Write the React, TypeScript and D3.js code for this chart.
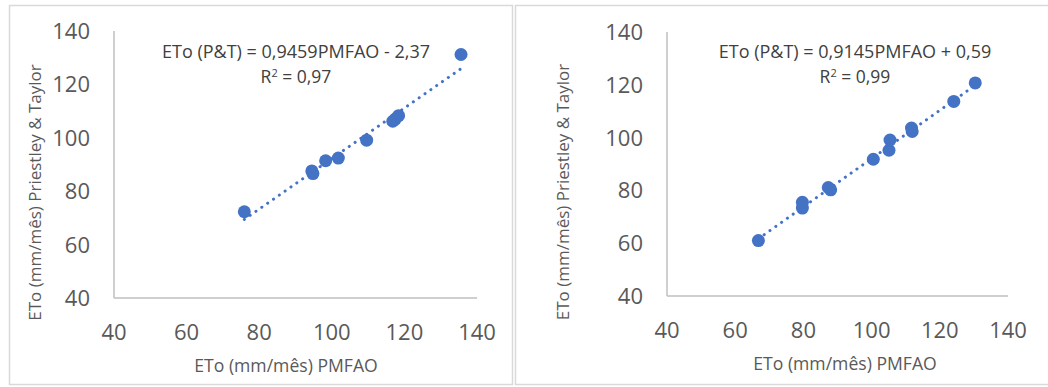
import * as d3 from "d3";
import { useEffect, useRef } from "react";

// ETo PMFAO (x) vs ETo Priestley & Taylor (y), two stations
const leftPmfao = [75.9, 94.5, 94.8, 98.3, 101.8, 109.6, 116.8, 117.5, 118.4, 135.6];
const leftPt = [72.3, 87.6, 86.6, 91.4, 92.4, 99.1, 106.2, 107.0, 108.3, 131.2];
const rightPmfao = [66.8, 79.7, 79.7, 87.3, 88.0, 100.5, 105.1, 105.4, 111.7, 111.9, 124.1, 130.4];
const rightPt = [61.0, 75.5, 73.3, 81.1, 80.2, 91.8, 95.2, 99.1, 103.6, 102.3, 113.7, 120.7];

const axisTicks = [40, 60, 80, 100, 120, 140];
const fitSlope = [0.9459, 0.9145];
const fitIntercept = [-2.37, 0.59];
const eqLabels = ["ETo (P&T) = 0,9459PMFAO - 2,37", "ETo (P&T) = 0,9145PMFAO + 0,59"];
const r2Labels = ["0,97", "0,99"];

const FONT = "'Open Sans', sans-serif";
const BLUE = "#4472C4";

const panels = [
  { xs: leftPmfao, ys: leftPt, x0: 114, x1: 477, y0: 298, y1: 31, eqX: 296, titleX: 286, yTitleX: 35 },
  { xs: rightPmfao, ys: rightPt, x0: 667, x1: 1008, y0: 296, y1: 32, eqX: 855, titleX: 845, yTitleX: 563 },
];

const App = () => {
  const ref = useRef();

  useEffect(() => {
    const svg = d3.select(ref.current);
    svg.selectAll("*").remove();

    // panel borders
    svg.append("rect").attr("x", 9.5).attr("y", 5.5).attr("width", 503).attr("height", 379)
      .attr("fill", "none").attr("stroke", "#d9d9d9").attr("stroke-width", 1.5);
    svg.append("rect").attr("x", 515.5).attr("y", 5.5).attr("width", 560).attr("height", 379)
      .attr("fill", "none").attr("stroke", "#d9d9d9").attr("stroke-width", 1.5);

    panels.forEach((p, i) => {
      const x = d3.scaleLinear().domain([40, 140]).range([p.x0, p.x1]);
      const y = d3.scaleLinear().domain([40, 140]).range([p.y0, p.y1]);
      const g = svg.append("g");

      // axis lines
      g.append("line").attr("x1", p.x0).attr("x2", p.x0).attr("y1", p.y1).attr("y2", p.y0)
        .attr("stroke", "#bfbfbf").attr("stroke-width", 1.5);
      g.append("line").attr("x1", p.x0).attr("x2", p.x1).attr("y1", p.y0).attr("y2", p.y0)
        .attr("stroke", "#bfbfbf").attr("stroke-width", 1.5);

      g.selectAll(".yt").data(axisTicks).enter().append("text")
        .attr("x", p.x0 - 24).attr("y", (d) => y(d)).attr("dy", "0.36em")
        .attr("text-anchor", "end").attr("font-family", FONT).attr("font-size", 22)
        .attr("fill", "#595959").text((d) => d);
      g.selectAll(".xt").data(axisTicks).enter().append("text")
        .attr("x", (d) => x(d)).attr("y", p.y0 + 42)
        .attr("text-anchor", "middle").attr("font-family", FONT).attr("font-size", 22)
        .attr("fill", "#595959").text((d) => d);

      // axis titles
      g.append("text").attr("x", p.titleX).attr("y", p.y0 + 74).attr("text-anchor", "middle")
        .attr("font-family", FONT).attr("font-size", 17.6).attr("fill", "#595959")
        .text("ETo (mm/mês) PMFAO");
      g.append("text")
        .attr("transform", `translate(${p.yTitleX + 6},${(p.y0 + p.y1) / 2 + 28}) rotate(-90)`)
        .attr("text-anchor", "middle").attr("font-family", FONT).attr("font-size", 17)
        .attr("fill", "#595959").text("ETo (mm/mês) Priestley & Taylor");

      // trendline
      const [mn, mx] = d3.extent(p.xs);
      const fit = (v) => fitSlope[i] * v + fitIntercept[i];
      const line = d3.line().x((d) => x(d)).y((d) => y(fit(d)));
      g.append("path").attr("d", line([mn, mx])).attr("fill", "none")
        .attr("stroke", BLUE).attr("stroke-width", 3).attr("stroke-linecap", "round")
        .attr("stroke-dasharray", "0.1 7");

      // points
      g.selectAll("circle").data(p.xs).enter().append("circle")
        .attr("cx", (d) => x(d)).attr("cy", (d, j) => y(p.ys[j])).attr("r", 6.5)
        .attr("fill", BLUE);

      // equation label
      g.append("text").attr("x", p.eqX).attr("y", 58).attr("text-anchor", "middle")
        .attr("font-family", FONT).attr("font-size", 18).attr("fill", "#404040")
        .text(eqLabels[i]);
      const r2 = g.append("text").attr("x", p.eqX).attr("y", 83).attr("text-anchor", "middle")
        .attr("font-family", FONT).attr("font-size", 17.5).attr("fill", "#404040");
      r2.append("tspan").text("R");
      r2.append("tspan").attr("dy", -6).attr("font-size", 11).text("2");
      r2.append("tspan").attr("dy", 6).text(" = " + r2Labels[i]);
    });
  }, []);

  return (
    <>
      <style>{"body{margin:0;background:#fff}"}</style>
      <svg ref={ref} width={1048} height={387} style={{ display: "block", background: "white" }} />
    </>
  );
};

export default App;
